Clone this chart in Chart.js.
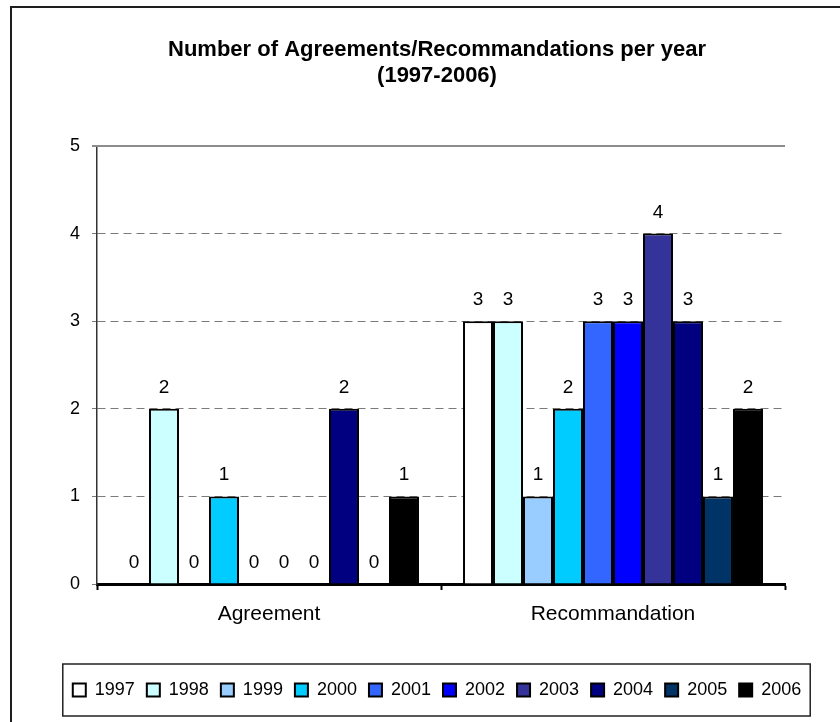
<!DOCTYPE html>
<html>
<head>
<meta charset="utf-8">
<title>Agreements / Recommandations per year</title>
<script src="https://cdn.jsdelivr.net/npm/chart.js@4/dist/chart.umd.min.js"></script>
<style>
  html, body { margin: 0; padding: 0; background: #fff; overflow: hidden; }
  #wrap { position: relative; width: 840px; height: 722px; overflow: hidden; }
  #frame { position: absolute; left: 10px; top: 6px; width: 860px; height: 760px; border: 2px solid #1e1e1e; }
  #chart { position: absolute; left: 0; top: 0; }
</style>
</head>
<body>
<div id="wrap">
  <div id="frame"></div>
  <canvas id="chart" width="840" height="722"></canvas>
</div>
<script>
const categories = ['Agreement', 'Recommandation'];
const years = ['1997', '1998', '1999', '2000', '2001', '2002', '2003', '2004', '2005', '2006'];
const agreementCounts = [0, 2, 0, 1, 0, 0, 0, 2, 0, 1];
const recommandationCounts = [3, 3, 1, 2, 3, 3, 4, 3, 1, 2];
const yearColors = ['#ffffff', '#ccffff', '#99ccff', '#00ccff', '#3366ff',
                    '#0000ff', '#333399', '#000080', '#003366', '#000000'];
const yTicks = [0, 1, 2, 3, 4, 5];

Chart.defaults.font.family = "'Liberation Sans', Arial, sans-serif";
Chart.defaults.color = '#000';

// value printed above every bar, zeros included
const barValues = {
    id: 'barValues',
    afterDatasetsDraw(chart) {
        const ctx = chart.ctx;
        ctx.save();
        ctx.font = "19px 'Liberation Sans', Arial, sans-serif";
        ctx.fillStyle = '#000';
        ctx.textAlign = 'center';
        ctx.textBaseline = 'alphabetic';
        chart.data.datasets.forEach((ds, i) => {
            chart.getDatasetMeta(i).data.forEach((bar, j) => {
                ctx.fillText(String(ds.data[j]), bar.x, bar.y - 16);
            });
        });
        ctx.restore();
    }
};

// box round the legend + solid top line of the plot
const extras = {
    id: 'extras',
    afterDraw(chart) {
        const ctx = chart.ctx;
        const y = chart.scales.y;
        ctx.save();
        ctx.strokeStyle = '#8c8c8c';
        ctx.lineWidth = 2;
        ctx.beginPath();
        ctx.moveTo(y.right - 5, y.getPixelForValue(5));
        ctx.lineTo(chart.chartArea.right, y.getPixelForValue(5));
        ctx.stroke();

        const hb = chart.legend.legendHitBoxes;
        if (hb && hb.length) {
            const first = hb[0], last = hb[hb.length - 1];
            const mid = first.top + first.height / 2;
            const left = first.left - 10;
            const right = last.left + last.width + 9;
            ctx.strokeStyle = '#222';
            ctx.lineWidth = 1.5;
            ctx.strokeRect(left, mid - 26, right - left, 52);
        }
        ctx.restore();
    }
};

const datasets = years.map((yr, i) => ({
    label: yr,
    data: [agreementCounts[i], recommandationCounts[i]],
    backgroundColor: yearColors[i],
    borderColor: '#000',
    borderWidth: 2,
    categoryPercentage: 0.872,
    barPercentage: 1.0
}));

new Chart(document.getElementById('chart'), {
    type: 'bar',
    data: { labels: categories, datasets: datasets },
    options: {
        responsive: false,
        animation: false,
        layout: { padding: { left: 36, right: 2, top: 20, bottom: 13 } },
        plugins: {
            title: {
                display: true,
                text: ['Number of Agreements/Recommandations per year', '(1997-2006)'],
                font: { size: 22, weight: 'bold', lineHeight: 1.2 },
                color: '#000',
                padding: { top: 16.8, bottom: 56.4 }
            },
            legend: {
                position: 'bottom',
                labels: {
                    boxWidth: 13,
                    boxHeight: 13,
                    padding: 12,
                    font: { size: 18 },
                    color: '#000'
                }
            },
            tooltip: { enabled: false }
        },
        scales: {
            x: {
                z: 1,
                grid: {
                    display: true,
                    drawOnChartArea: false,
                    drawTicks: true,
                    tickLength: 6,
                    tickWidth: 2,
                    tickColor: '#000',
                    offset: true
                },
                border: { display: true, color: '#000', width: 3 },
                ticks: { font: { size: 21 }, padding: 12, color: '#000' },
                afterFit(scale) { scale.height = 85; }
            },
            y: {
                min: 0,
                max: 5,
                afterBuildTicks(scale) { scale.ticks = yTicks.map(v => ({ value: v })); },
                grid: {
                    color: ctx => (ctx.tick && (ctx.tick.value === 0 || ctx.tick.value === 5)) ? 'rgba(0,0,0,0)' : '#7a7a7a',
                    lineWidth: 1,
                    tickLength: 5,
                    tickColor: '#7a7a7a',
                    tickWidth: 1
                },
                border: { display: true, color: '#333', width: 1.5, dash: [8, 5] },
                ticks: { font: { size: 18 }, padding: 12, color: '#000' },
                afterFit(scale) { scale.width = 61; }
            },
            pad: {
                axis: 'y',
                position: 'right',
                display: true,
                grid: { display: false },
                border: { display: false },
                ticks: { display: false },
                afterFit(scale) { scale.width = 53; }
            }
        }
    },
    plugins: [barValues, extras]
});
</script>
</body>
</html>
